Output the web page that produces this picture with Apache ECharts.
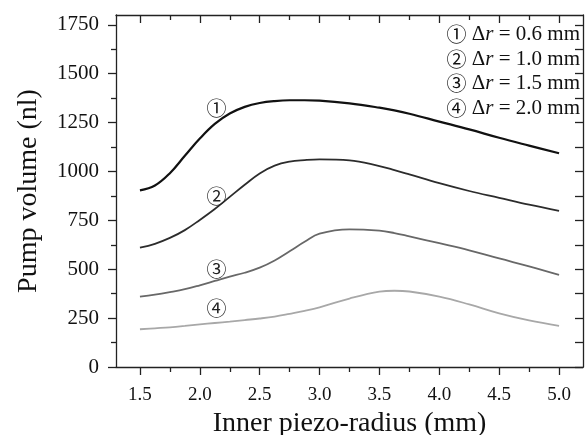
<!DOCTYPE html>
<html>
<head>
<meta charset="utf-8">
<script src="https://cdn.jsdelivr.net/npm/echarts@6/dist/echarts.min.js"></script>
<style>html,body{margin:0;padding:0;background:#fff}#c{width:587px;height:435px}</style>
</head>
<body>
<div id="c"></div>
<script>
// ---- data ----
const radius = [1.5, 1.625, 1.75, 1.875, 2.0, 2.125, 2.25, 2.375, 2.5, 2.625, 2.75, 2.875, 3.0, 3.25, 3.5, 3.625, 3.75, 4.0, 4.25, 4.5, 4.75, 5.0];
const vol06 = [903, 928, 991, 1080, 1168, 1243, 1296, 1330, 1350, 1360, 1364, 1364, 1362, 1348, 1326, 1312, 1295, 1255, 1215, 1172, 1132, 1093];
const vol10 = [610, 630, 660, 700, 752, 808, 870, 932, 990, 1030, 1050, 1058, 1062, 1057, 1027, 1007, 985, 940, 900, 865, 830, 798];
const vol15 = [360, 370, 383, 398, 418, 440, 462, 482, 508, 545, 592, 640, 682, 704, 697, 685, 668, 633, 597, 555, 515, 471];
const vol20 = [193, 198, 203, 210, 218, 225, 232, 240, 248, 258, 272, 287, 305, 350, 385, 390, 386, 360, 320, 274, 238, 210];
const seriesNames = ['\u0394r = 0.6 mm', '\u0394r = 1.0 mm', '\u0394r = 1.5 mm', '\u0394r = 2.0 mm'];
const markers = ['\u2460', '\u2461', '\u2462', '\u2463'];
const markerX = [2.14, 2.14, 2.14, 2.14];
const markerY = [1320, 870, 500, 300];
const deltaR = ['0.6', '1.0', '1.5', '2.0'];
const xMajor = [1.5, 2.0, 2.5, 3.0, 3.5, 4.0, 4.5, 5.0];
const xMinor = [1.75, 2.25, 2.75, 3.25, 3.75, 4.25, 4.75];
const yMajor = [0, 250, 500, 750, 1000, 1250, 1500, 1750];
const yMinor = [125, 375, 625, 875, 1125, 1375, 1625];

const FONT = "'Liberation Serif', 'Times New Roman', serif";
const CIRC = "'Noto Sans CJK JP', 'DejaVu Sans', sans-serif";
const colors = ['#111111', '#2c2c2c', '#686868', '#a8a8a8'];
const widths = [2.2, 1.8, 1.8, 1.8];
const allVals = [vol06, vol10, vol15, vol20];

const lineStyle = {color: '#222', width: 1.3};
function xAxisDef(pos, values, len, inside, showLine, labels, name) {
  return {
    type: 'value', position: pos, min: 1.3, max: 5.2,
    axisLine: {show: showLine, onZero: false, lineStyle: lineStyle},
    axisTick: {show: true, inside: inside, length: len, customValues: values, lineStyle: lineStyle},
    axisLabel: labels ? {show: true, customValues: values, formatter: v => v.toFixed(1), color: '#111', fontFamily: FONT, fontSize: 19, margin: 19} : {show: false},
    splitLine: {show: false},
    name: name || '', nameLocation: 'middle', nameGap: 43,
    nameTextStyle: {fontFamily: FONT, fontSize: 28, color: '#111'}
  };
}
function yAxisDef(pos, values, len, inside, showLine, labels, name) {
  return {
    type: 'value', position: pos, min: 0, max: 1800,
    axisLine: {show: showLine, onZero: false, lineStyle: lineStyle},
    axisTick: {show: true, inside: inside, length: len, customValues: values, lineStyle: lineStyle},
    axisLabel: labels ? {show: true, customValues: values, formatter: v => String(v), color: '#111', fontFamily: FONT, fontSize: 21, margin: 17} : {show: false},
    splitLine: {show: false},
    name: name || '', nameLocation: 'middle', nameGap: 73,
    nameTextStyle: {fontFamily: FONT, fontSize: 28, color: '#111'}
  };
}

const series = allVals.map((vals, i) => ({
  type: 'line', name: seriesNames[i], xAxisIndex: 0, yAxisIndex: 0,
  data: radius.map((r, j) => [r, vals[j]]),
  smooth: 0.4, showSymbol: false, symbol: 'none',
  lineStyle: {color: colors[i], width: widths[i]},
  itemStyle: {color: colors[i]},
  markPoint: {
    symbol: 'circle', symbolSize: 1, itemStyle: {color: 'rgba(0,0,0,0)'},
    label: {show: true, position: 'inside', formatter: markers[i], color: '#222', fontSize: 20, fontFamily: CIRC},
    data: [{coord: [markerX[i], markerY[i]]}]
  }
}));

const chart = echarts.init(document.getElementById('c'), null, {renderer: 'canvas'});
chart.setOption({
  animation: false,
  backgroundColor: '#fff',
  grid: {left: 116, top: 15, right: 4, bottom: 68, containLabel: false, outerBoundsMode: 'none'},
  xAxis: [
    xAxisDef('bottom', xMajor, 8, false, true, true, 'Inner piezo-radius (mm)'),
    xAxisDef('bottom', xMinor, 5, false, false, false),
    xAxisDef('top', xMajor, 8, true, true, false),
    xAxisDef('top', xMinor, 5, true, false, false)
  ],
  yAxis: [
    yAxisDef('left', yMajor, 8, false, true, true, 'Pump volume (nl)'),
    yAxisDef('left', yMinor, 5, false, false, false),
    yAxisDef('right', yMajor, 8, true, true, false),
    yAxisDef('right', yMinor, 8, true, false, false)
  ],
  series: series,
  graphic: deltaR.map((d, i) => ({
    type: 'text', right: 7, top: 24 + i * 24.5,
    style: {
      text: '{c|' + markers[i] + '}{a| \u0394}{i|r}{a| = ' + d + ' mm}',
      rich: {
        c: {fontFamily: CIRC, fontSize: 20, fill: '#111'},
        a: {fontFamily: FONT, fontSize: 21, fill: '#111'},
        i: {fontFamily: FONT, fontSize: 21, fontStyle: 'italic', fill: '#111'}
      }
    }
  }))
});
</script>
</body>
</html>
